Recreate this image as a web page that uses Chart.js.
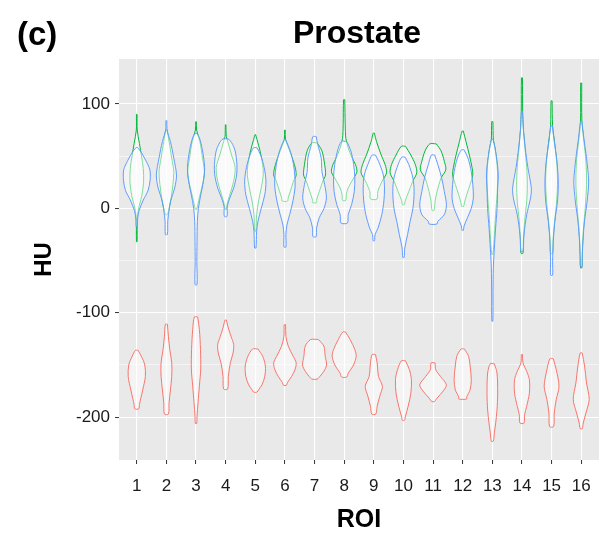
<!DOCTYPE html>
<html>
<head>
<meta charset="utf-8">
<script src="https://cdn.jsdelivr.net/npm/chart.js@4.4.1/dist/chart.umd.min.js"></script>
<style>
  html,body{margin:0;padding:0;background:#fff;}
  #wrap{width:603px;height:545px;}
</style>
</head>
<body>
<div id="wrap"><canvas id="c" width="603" height="545"></canvas></div>
<script>
// Prostate HU per ROI: three violin groups (red / green / blue).
// Each violin: list of [HU, half-width in ROI units], read from top to bottom.
var roiLabels = [1,2,3,4,5,6,7,8,9,10,11,12,13,14,15,16];
var yTickValues = [-200,-150,-100,-50,0,50,100];

var redViolins = [
  [[-136,0.045],[-142,0.16],[-150,0.27],[-161,0.29],[-174,0.2],[-182,0.135],[-188,0.09],[-192,0.068]],
  [[-111,0.034],[-123,0.068],[-135,0.113],[-148,0.18],[-161,0.18],[-174,0.135],[-186,0.09],[-197,0.068]],
  [[-104,0.056],[-116,0.113],[-135,0.15],[-154,0.158],[-170,0.113],[-186,0.068],[-199,0.034],[-206,0.023]],
  [[-107,0.023],[-114.6,0.09],[-122.6,0.18],[-130.5,0.27],[-138.5,0.25],[-148,0.158],[-161,0.09],[-173,0.068]],
  [[-134.7,0.09],[-141.7,0.25],[-151,0.34],[-161,0.32],[-169,0.225],[-173.7,0.113],[-176,0.056]],
  [[-111.4,0.023],[-122.6,0.034],[-132,0.113],[-141.7,0.28],[-148,0.38],[-154.5,0.34],[-161,0.225],[-166.6,0.09],[-169.5,0.045]],
  [[-125.7,0.135],[-132,0.315],[-141.7,0.36],[-150,0.405],[-156,0.315],[-161,0.18],[-163.5,0.09]],
  [[-118.4,0.045],[-125.7,0.2],[-135.3,0.36],[-141.7,0.405],[-150,0.315],[-158,0.135],[-161.5,0.09]],
  [[-140,0.056],[-148,0.113],[-161,0.158],[-170.5,0.29],[-180,0.2],[-189.6,0.113],[-197,0.068]],
  [[-146,0.068],[-154.5,0.2],[-164,0.27],[-177,0.25],[-189.6,0.158],[-199,0.068],[-203,0.034]],
  [[-148,0.068],[-154.5,0.09],[-161,0.25],[-169,0.45],[-175,0.34],[-181.7,0.135],[-185,0.045]],
  [[-134.7,0.056],[-141.7,0.2],[-151,0.25],[-164,0.29],[-173.7,0.25],[-180.7,0.135],[-182.6,0.135]],
  [[-148.8,0.068],[-157.7,0.158],[-177,0.18],[-193,0.158],[-205.6,0.113],[-215,0.068],[-223,0.034]],
  [[-140,0.017],[-148,0.034],[-156,0.158],[-164,0.25],[-177,0.25],[-189.6,0.158],[-197.6,0.09],[-205.6,0.068]],
  [[-144,0.056],[-154.5,0.158],[-170.5,0.25],[-183,0.158],[-196,0.09],[-209,0.068]],
  [[-138.5,0.034],[-151,0.113],[-167.3,0.18],[-183,0.27],[-196,0.158],[-205.6,0.068],[-211,0.034]]
];

var greenViolins = [
  [[90,0.01],[75,0.015],[62,0.09],[50,0.16],[38,0.22],[25,0.23],[12,0.17],[2,0.08],[-8,0.02],[-32,0.01]],
  [[75,0.02],[64,0.09],[48,0.18],[35,0.25],[23,0.22],[10,0.16],[0,0.09],[-6,0.03]],
  [[83,0.01],[75,0.02],[64,0.13],[48,0.22],[35,0.28],[23,0.22],[10,0.11],[-1,0.02]],
  [[80,0.01],[69,0.02],[64,0.07],[51,0.2],[39,0.32],[26,0.27],[13,0.14],[3.5,0.045],[-1,0.02]],
  [[70.6,0.01],[66,0.056],[55,0.16],[42,0.25],[32,0.27],[19.5,0.2],[7,0.11],[-6,0.045],[-22,0.02]],
  [[75,0.01],[66,0.02],[55,0.16],[42,0.32],[32,0.38],[26,0.29],[16,0.18],[10,0.11],[7,0.09]],
  [[62.6,0.09],[55,0.25],[42,0.34],[32,0.37],[26,0.28],[16,0.16],[8,0.07],[5.5,0.07]],
  [[104,0.02],[80,0.034],[67,0.056],[58,0.135],[48,0.27],[42,0.38],[35,0.43],[29,0.32],[19.5,0.135],[13,0.07],[7.7,0.056]],
  [[72,0.02],[64,0.09],[51,0.25],[42,0.38],[34,0.43],[26,0.28],[16,0.135],[9,0.11]],
  [[59.4,0.07],[51,0.25],[42,0.4],[34,0.45],[26,0.315],[16,0.18],[7,0.056],[3.5,0.034]],
  [[61.7,0.11],[55,0.27],[45,0.38],[37,0.43],[29,0.27],[16,0.135],[7,0.07],[-2,0.034]],
  [[74,0.02],[64,0.11],[51,0.225],[39,0.315],[32,0.34],[23,0.25],[13,0.135],[5,0.056],[2,0.034]],
  [[83,0.02],[66,0.034],[58,0.09],[42,0.16],[29,0.18],[13,0.16],[-6,0.11],[-25,0.07],[-44,0.02]],
  [[125,0.017],[93,0.023],[77,0.045],[58,0.1],[39,0.16],[23,0.18],[7,0.16],[-12.5,0.09],[-32,0.045],[-43,0.034]],
  [[103,0.017],[79,0.034],[61,0.11],[42,0.18],[23,0.2],[3.5,0.16],[-16,0.09],[-32,0.045],[-43,0.034]],
  [[120,0.017],[83,0.023],[64,0.09],[45,0.16],[23,0.18],[0,0.135],[-22,0.07],[-44,0.034],[-57,0.023]]
];

var blueViolins = [
  [[58.5,0.01],[55,0.12],[46,0.3],[37,0.44],[27,0.45],[17,0.38],[8,0.22],[-2,0.08],[-10,0.03],[-17.5,0.02]],
  [[84,0.015],[75,0.023],[64,0.135],[48,0.25],[32,0.34],[19.5,0.28],[7,0.14],[-6,0.07],[-12.5,0.045],[-25,0.034]],
  [[72,0.02],[68,0.11],[55,0.22],[39,0.29],[26,0.25],[13,0.16],[0,0.08],[-12.5,0.045],[-32,0.034],[-51,0.028],[-73,0.034]],
  [[66.5,0.09],[63,0.2],[55,0.32],[42,0.38],[32,0.37],[19.5,0.27],[10,0.14],[2,0.056],[-7.7,0.045]],
  [[58,0.056],[51,0.18],[39,0.3],[26,0.36],[13,0.32],[0,0.2],[-12.5,0.09],[-22,0.045],[-38,0.023]],
  [[66,0.02],[55,0.18],[42,0.29],[29,0.34],[19.5,0.34],[7,0.27],[-6,0.16],[-16,0.068],[-25,0.034],[-37,0.034]],
  [[68.7,0.056],[61,0.11],[48,0.225],[35,0.25],[23,0.34],[10,0.4],[0,0.32],[-9,0.16],[-19,0.068],[-27,0.056]],
  [[64,0.09],[55,0.225],[42,0.32],[29,0.36],[16,0.34],[3.5,0.25],[-6,0.135],[-14,0.11]],
  [[51,0.056],[45,0.16],[32,0.32],[19.5,0.36],[7,0.34],[-6,0.27],[-19,0.14],[-25,0.045],[-31,0.023]],
  [[49,0.056],[42,0.18],[29,0.32],[16,0.36],[0,0.32],[-12.5,0.225],[-25,0.14],[-38,0.045],[-47,0.023]],
  [[51,0.056],[42,0.16],[29,0.29],[16,0.38],[3.5,0.45],[-6,0.38],[-12.5,0.16],[-15,0.135]],
  [[56,0.045],[48,0.18],[35,0.29],[23,0.34],[10,0.36],[0,0.29],[-9,0.16],[-17,0.045],[-21,0.023]],
  [[66,0.023],[58,0.09],[45,0.16],[32,0.2],[19.5,0.18],[0,0.16],[-19,0.11],[-38,0.068],[-57,0.034],[-80,0.023],[-108,0.017]],
  [[93,0.017],[77,0.045],[58,0.11],[39,0.2],[19.5,0.315],[10,0.29],[-6,0.16],[-25,0.068],[-41,0.034]],
  [[79,0.023],[64,0.09],[45,0.18],[26,0.225],[7,0.2],[-12.5,0.11],[-32,0.056],[-51,0.034],[-64,0.034]],
  [[83,0.023],[67,0.09],[48,0.18],[26,0.25],[7,0.2],[-12.5,0.11],[-32,0.056],[-48,0.034],[-56,0.023]]
];

var FONT = "'Liberation Sans', Arial, Helvetica, sans-serif";
var PANEL_BG = "#E9E9E9";
var VIOLIN_FILL = "rgba(255,255,255,0.5)";

// closed outline: right side downwards, then left side back up
function outline(profile, roi){
  var right = profile.map(function(p){return {x:roi+p[1], y:p[0]};});
  var left = profile.slice().reverse().map(function(p){return {x:roi-p[1], y:p[0]};});
  return right.concat(left, [right[0]]);
}

function violinSets(list, color, order){
  return list.map(function(prof, i){
    return {
      data: outline(prof, roiLabels[i]),
      showLine: true, borderColor: color, borderWidth: 1,
      backgroundColor: VIOLIN_FILL, fill: "shape",
      pointRadius: 0, pointHoverRadius: 0, tension: 0.3, order: order
    };
  });
}

var datasets = [].concat(
  violinSets(redViolins, "#F8766D", 3),
  violinSets(greenViolins, "#00BA38", 2),
  violinSets(blueViolins, "#619CFF", 1)
);

var panelBg = {
  id: "panelBg",
  beforeDraw: function(chart){
    var a = chart.chartArea, ctx = chart.ctx;
    ctx.save(); ctx.fillStyle = PANEL_BG;
    ctx.fillRect(a.left, a.top, a.right - a.left, a.bottom - a.top);
    ctx.restore();
  }
};

var labels = {
  id: "labels",
  afterDraw: function(chart){
    var ctx = chart.ctx, a = chart.chartArea, cx = (a.left + a.right) / 2;
    ctx.save();
    ctx.fillStyle = "#000";
    ctx.textBaseline = "alphabetic";
    ctx.font = "bold 33px " + FONT;
    ctx.textAlign = "left";
    ctx.fillText("(c)", 17, 45);
    ctx.font = "bold 32px " + FONT;
    ctx.textAlign = "center";
    ctx.fillText("Prostate", cx - 2, 43);
    ctx.font = "bold 25px " + FONT;
    ctx.fillText("ROI", cx, 527);
    ctx.font = "bold 24px " + FONT;
    ctx.translate(51, (a.top + a.bottom) / 2);
    ctx.rotate(-Math.PI / 2);
    ctx.fillText("HU", 0, 0);
    ctx.restore();
  }
};

new Chart(document.getElementById("c"), {
  type: "scatter",
  data: { datasets: datasets },
  plugins: [panelBg, labels],
  options: {
    responsive: false, animation: false, devicePixelRatio: 1,
    layout: { padding: { top: 59, right: 4, left: 0, bottom: 0 } },
    plugins: { legend: { display: false }, tooltip: { enabled: false } },
    scales: {
      x: {
        type: "linear", min: 0.4, max: 16.6,
        afterBuildTicks: function(s){ s.ticks = roiLabels.map(function(v){return {value:v};}); },
        afterFit: function(s){ s.height = 85; },
        border: { display: false },
        grid: { color: "#FFFFFF", lineWidth: 1.1, tickLength: 4, tickColor: "#333333", tickWidth: 1 },
        ticks: { color: "#1A1A1A", font: { family: FONT, size: 17 }, padding: 12, maxRotation: 0, autoSkip: false,
                 callback: function(v){ return String(v); } }
      },
      y: {
        type: "linear", min: -241, max: 143,
        afterBuildTicks: function(s){ s.ticks = yTickValues.map(function(v){return {value:v};}); },
        afterFit: function(s){ s.width = 119; },
        border: { display: false },
        grid: {
          color: "#FFFFFF",
          lineWidth: function(c){ return c.tick && c.tick.value % 100 === 0 ? 1.1 : 0.55; },
          tickLength: 4, tickWidth: 1,
          tickColor: function(c){ return c.tick && c.tick.value % 100 === 0 ? "#333333" : "rgba(0,0,0,0)"; }
        },
        ticks: { color: "#1A1A1A", font: { family: FONT, size: 17 }, padding: 5, autoSkip: false,
                 callback: function(v){ return v % 100 === 0 ? String(v) : ""; } }
      }
    }
  }
});
</script>
</body>
</html>
